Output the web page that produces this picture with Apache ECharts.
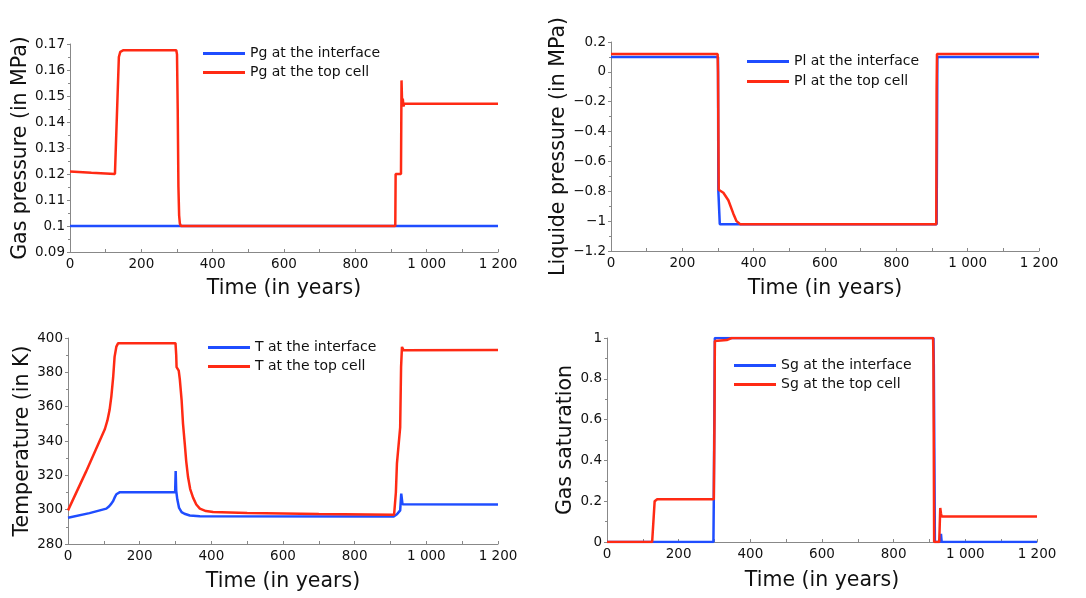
<!DOCTYPE html>
<html>
<head>
<meta charset="utf-8">
<title>Interface vs top cell</title>
<script src="https://cdn.jsdelivr.net/npm/echarts@6/dist/echarts.min.js"></script>
<style>
  html, body { margin: 0; padding: 0; background: #fff; }
  #main { width: 1086px; height: 598px; }
</style>
</head>
<body>
<div id="main"></div>
<script>
// gas pressure (MPa)
const pgIfT = [0, 1200]
const pgIfV = [0.1, 0.1]
const pgTopT = [0, 60, 126, 137, 141, 146, 150, 298, 300, 302, 304, 306, 308, 311, 912, 913, 928, 929.5, 931, 933, 935, 937, 940, 1200]
const pgTopV = [0.121, 0.1205, 0.12, 0.165, 0.167, 0.1675, 0.1676, 0.1676, 0.166, 0.145, 0.115, 0.104, 0.101, 0.1, 0.1, 0.12, 0.12, 0.156, 0.148, 0.149, 0.146, 0.147, 0.147, 0.147]

// liquid pressure (MPa)
const plIfT = [0, 300, 301, 305, 913, 915, 1200]
const plIfV = [0.1, 0.1, -0.8, -1.02, -1.02, 0.1, 0.1]
const plTopT = [0, 299, 300, 302, 306, 315, 329, 343, 352, 362, 912, 913, 914, 918, 923, 1200]
const plTopV = [0.12, 0.12, 0, -0.79, -0.79, -0.81, -0.86, -0.95, -1.0, -1.02, -1.02, -0.1, 0.12, 0.125, 0.12, 0.12]

// temperature (K)
const tIfT = [0, 60, 107, 115, 121, 126, 130, 135, 140, 145, 150, 299, 300.5, 302, 303, 305, 310, 317, 325, 340, 368, 909, 913, 918, 927, 930, 933.5, 1200]
const tIfV = [295.3, 298, 300.6, 302, 303.5, 305, 307, 309, 310, 310.2, 310.2, 310.2, 322.5, 311, 310, 306, 301, 298.6, 297.6, 296.6, 296.1, 296, 295.3, 297.3, 299.6, 309.3, 303.1, 303]
const tTopT = [0, 50, 103, 110, 116, 121, 126, 130, 135, 140, 150, 300, 302, 303, 309, 312, 317, 321, 326, 330, 335, 341, 349, 358, 368, 385, 405, 500, 700, 910, 913, 915, 918, 927, 929.5, 932, 936.5, 1200]
const tTopV = [299.6, 322, 347, 352, 358, 366, 377, 389, 395, 397, 397, 397, 390, 383, 381, 376, 364, 350, 338, 328, 319, 312, 307, 303, 300.6, 299.2, 298.6, 298, 297.5, 297, 297.7, 310, 327, 348, 383, 394.8, 392.8, 393]

// gas saturation
const sgIfT = [0, 297, 298, 300, 301, 911, 912, 914, 915, 930, 932, 934, 1200]
const sgIfV = [0, 0, 0.2, 0.75, 1, 1, 0.87, 0.3, 0, 0, 0.04, 0, 0]
const sgTopT = [0, 126, 133, 140, 298, 300, 301, 334, 348, 910, 911, 913, 927, 928, 930, 932, 934, 1200]
const sgTopV = [0, 0, 0.2, 0.21, 0.21, 0.6, 0.985, 0.99, 1, 1, 0.9, 0, 0, 0.05, 0.167, 0.14, 0.125, 0.125]

const BLUE = '#1f4dff'
const RED = '#ff2a14'
const FONT = 'DejaVu Sans'

const zip = (t, v) => t.map((x, i) => [x, v[i]])

const fmtX = v => String(v).replace(/\B(?=(\d{3})+(?!\d))/g, ' ')
const fmtY = v => String(parseFloat(v.toFixed(3))).replace('-', '\u2212')

const panels = [
  { left: 70, top: 44, width: 428, height: 208, yName: 'Gas pressure (in MPa)', yMin: 0.09, yMax: 0.17, yStep: 0.01, yGap: 38, xGap: 26,
    names: ['Pg at the interface', 'Pg at the top cell'], legend: [203, 44, 0], series: [[pgIfT, pgIfV], [pgTopT, pgTopV]] },
  { left: 611, top: 42, width: 428, height: 209, yName: 'Liquide pressure (in MPa)', yMin: -1.2, yMax: 0.2, yStep: 0.2, yGap: 37, xGap: 27,
    names: ['Pl at the interface', 'Pl at the top cell'], legend: [747, 52, 1], series: [[plIfT, plIfV], [plTopT, plTopV]] },
  { left: 68, top: 338, width: 430, height: 206, yName: 'Temperature (in K)', yMin: 280, yMax: 400, yStep: 20, yGap: 33, xGap: 27,
    names: ['T at the interface', 'T at the top cell'], legend: [208, 338, 0], series: [[tIfT, tIfV], [tTopT, tTopV]] },
  { left: 607, top: 338, width: 430, height: 204, yName: 'Gas saturation', yMin: 0, yMax: 1, yStep: 0.2, yGap: 28, xGap: 28,
    names: ['Sg at the interface', 'Sg at the top cell'], legend: [734, 356, 0], series: [[sgIfT, sgIfV], [sgTopT, sgTopV]] }
]

const labelStyle = { color: '#111', fontFamily: FONT, fontSize: 13.5 }
const nameStyle = { color: '#111', fontFamily: FONT, fontSize: 20.5 }

const option = {
  backgroundColor: '#fff',
  animation: false,
  grid: panels.map(p => ({ left: p.left, top: p.top, width: p.width, height: p.height, containLabel: false, outerBoundsMode: 'none' })),
  xAxis: panels.map((p, i) => ({
    type: 'value',
    gridIndex: i,
    min: 0,
    max: 1200,
    interval: 200,
    name: 'Time (in years)',
    nameLocation: 'middle',
    nameGap: p.xGap,
    nameTextStyle: nameStyle,
    axisLine: { onZero: false, lineStyle: { color: '#888', width: 1 } },
    axisTick: { inside: true, length: 3, lineStyle: { color: '#888' } },
    minorTick: { show: true, splitNumber: 2, length: 3, lineStyle: { color: '#888' } },
    splitLine: { show: false },
    axisLabel: Object.assign({ margin: 5, formatter: fmtX }, labelStyle)
  })),
  yAxis: panels.map((p, i) => ({
    type: 'value',
    gridIndex: i,
    min: p.yMin,
    max: p.yMax,
    interval: p.yStep,
    name: p.yName,
    nameLocation: 'middle',
    nameGap: p.yGap,
    nameTextStyle: nameStyle,
    axisLine: { show: true, onZero: false, lineStyle: { color: '#888', width: 1 } },
    axisTick: { show: true, length: 3, lineStyle: { color: '#888' } },
    minorTick: { show: true, splitNumber: 2, length: 2, lineStyle: { color: '#888' } },
    splitLine: { show: false },
    axisLabel: Object.assign({ margin: 5, formatter: fmtY }, labelStyle)
  })),
  legend: panels.map(p => ({
    left: p.legend[0],
    top: p.legend[1],
    orient: 'vertical',
    padding: 0,
    itemGap: p.legend[2],
    icon: 'rect',
    itemWidth: 42,
    itemHeight: 3,
    data: p.names,
    textStyle: { color: '#111', fontFamily: FONT, fontSize: 14, lineHeight: 19 }
  })),
  series: []
}

panels.forEach((p, i) => {
  p.series.forEach((s, k) => {
    option.series.push({
      type: 'line',
      name: p.names[k],
      xAxisIndex: i,
      yAxisIndex: i,
      data: zip(s[0], s[1]),
      showSymbol: false,
      color: k === 0 ? BLUE : RED,
      lineStyle: { width: 2.5, color: k === 0 ? BLUE : RED }
    })
  })
})

const chart = echarts.init(document.getElementById('main'))
chart.setOption(option)
</script>
</body>
</html>
